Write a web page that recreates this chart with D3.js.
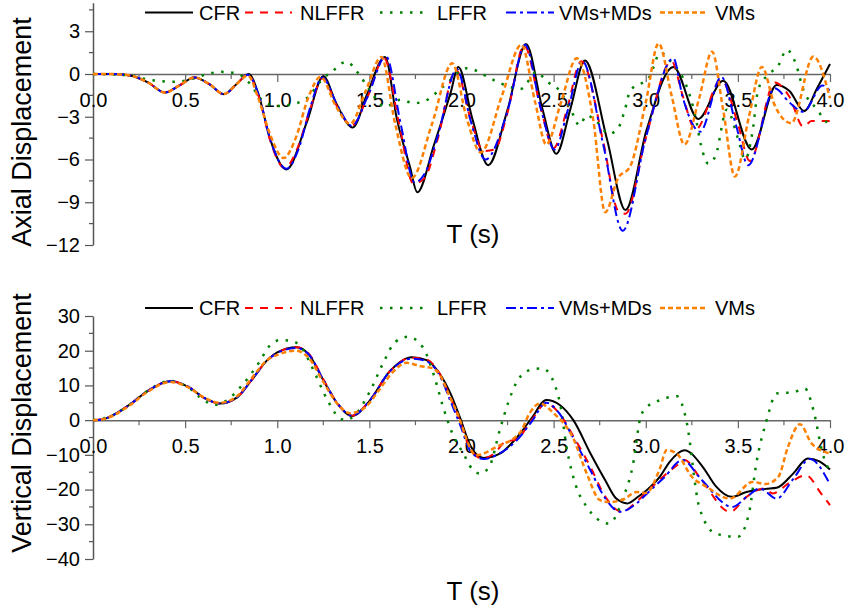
<!DOCTYPE html>
<html>
<head>
<meta charset="utf-8">
<script src="https://cdn.jsdelivr.net/npm/d3@7"></script>
<style>
  html, body { margin: 0; padding: 0; background: #fff; }
  svg { display: block; font-family: "Liberation Sans", Arial, sans-serif; }
</style>
</head>
<body>
<svg id="chart" width="846" height="614"></svg>
<script>
// ---- series names and labels ----
const seriesNames = ["CFR", "NLFFR", "LFFR", "VMs+MDs", "VMs"];
const xTickValues = [0, 0.5, 1, 1.5, 2, 2.5, 3, 3.5, 4];
const xTickLabels = ["0.0", "0.5", "1.0", "1.5", "2.0", "2.5", "3.0", "3.5", "4.0"];
const axialTicks = [3, 0, -3, -6, -9, -12];
const verticalTicks = [30, 20, 10, 0, -10, -20, -30, -40];

// ---- axial displacement, [time (s), value] ----
const axialCFR = [[0,0],[0.1,0],[0.2,-0.1],[0.3,-0.6],[0.39,-1.3],[0.47,-0.8],[0.55,-0.25],[0.63,-0.7],[0.71,-1.42],[0.78,-0.7],[0.845,0],[0.9,-1.5],[0.96,-4.5],[1.05,-6.7],[1.16,-3.4],[1.25,-0.15],[1.32,-2.06],[1.41,-3.75],[1.485,-1.5],[1.585,1.2],[1.65,-3.2],[1.72,-6.5],[1.76,-8.3],[1.85,-5.0],[1.94,-1.36],[1.983,0.5],[2.06,-3.2],[2.145,-6.4],[2.25,-2.5],[2.35,2.1],[2.44,-2.5],[2.515,-5.6],[2.59,-2.5],[2.67,0.95],[2.79,-4.6],[2.89,-9.55],[3.005,-3.9],[3.15,0.5],[3.285,-3.15],[3.42,-0.47],[3.575,-5.3],[3.71,-0.77],[3.78,-1.2],[3.86,-2.6],[3.93,-1.0],[4.0,0.7]];
const axialNLFFR = [[0,0],[0.1,0],[0.2,-0.1],[0.3,-0.6],[0.39,-1.3],[0.47,-0.8],[0.55,-0.25],[0.63,-0.7],[0.71,-1.42],[0.78,-0.7],[0.84,-0.05],[0.9,-1.6],[0.96,-4.6],[1.04,-6.6],[1.11,-5.2],[1.18,-2.4],[1.245,-0.3],[1.33,-2.4],[1.405,-3.6],[1.49,-1.6],[1.58,1.1],[1.66,-3.4],[1.74,-7.7],[1.8,-7.3],[1.87,-4.6],[1.97,0.3],[2.05,-3.2],[2.12,-5.4],[2.18,-5.3],[2.25,-2.7],[2.34,2.0],[2.43,-2.4],[2.5,-5.2],[2.57,-2.6],[2.65,0.9],[2.77,-4.8],[2.85,-9.6],[2.89,-9.8],[3.0,-4.5],[3.14,0.9],[3.2,-1.5],[3.27,-3.9],[3.41,-0.4],[3.5,-3.5],[3.565,-6.1],[3.7,-0.6],[3.78,-1.6],[3.855,-3.7],[3.9,-3.3],[4.0,-3.3]];
const axialLFFR = [[0,0],[0.2,-0.1],[0.3,-0.4],[0.45,-0.55],[0.55,-0.3],[0.62,0],[0.7,0.15],[0.78,0.05],[0.85,-0.65],[0.915,-1.8],[1.0,-2.25],[1.09,-2.1],[1.16,-1.7],[1.25,-0.3],[1.3,0.2],[1.375,0.86],[1.44,0.05],[1.5,-1.1],[1.585,-2.3],[1.67,-1.8],[1.74,-2.05],[1.8,-1.9],[1.9,-0.9],[2.03,0.4],[2.17,-0.4],[2.26,-0.9],[2.32,-1.05],[2.41,0.15],[2.46,-0.5],[2.52,-1.0],[2.59,-2.4],[2.64,-3.6],[2.68,-2.9],[2.73,-3.3],[2.8,-4.2],[2.85,-3.8],[2.887,-2.5],[2.915,-1.2],[3.02,-0.2],[3.08,1.5],[3.14,0.8],[3.22,-0.8],[3.27,-3.0],[3.3,-5.0],[3.34,-6.3],[3.38,-5.7],[3.44,-2.5],[3.5,-4.5],[3.54,-6.0],[3.58,-4.0],[3.61,-1.1],[3.66,-0.1],[3.72,0.6],[3.765,1.7],[3.82,0.5],[3.85,-0.9],[3.93,-2.5],[4.0,-3.7]];
const axialVMsMDs = [[0,0],[0.1,0],[0.2,-0.1],[0.3,-0.6],[0.39,-1.3],[0.47,-0.8],[0.55,-0.25],[0.63,-0.7],[0.71,-1.42],[0.78,-0.7],[0.84,-0.05],[0.9,-1.5],[0.96,-4.5],[1.05,-6.65],[1.12,-5.1],[1.18,-2.3],[1.245,-0.25],[1.33,-2.3],[1.405,-3.65],[1.49,-1.6],[1.59,1.25],[1.67,-3.5],[1.745,-7.6],[1.8,-7.0],[1.87,-4.4],[1.975,0.35],[2.05,-3.3],[2.13,-6.0],[2.25,-2.6],[2.345,2.05],[2.43,-2.4],[2.505,-5.3],[2.58,-2.4],[2.655,0.9],[2.77,-5.0],[2.875,-11.0],[3.0,-4.5],[3.15,1.1],[3.2,-1.6],[3.295,-4.05],[3.41,-0.2],[3.49,-3.6],[3.556,-6.4],[3.7,-1.0],[3.78,-2.0],[3.855,-2.65],[3.96,-0.8],[4.0,-1.2]];
const axialVMs = [[0,0],[0.1,0],[0.2,-0.1],[0.3,-0.6],[0.39,-1.3],[0.47,-0.8],[0.55,-0.25],[0.63,-0.7],[0.71,-1.4],[0.78,-0.7],[0.84,-0.1],[0.9,-1.8],[0.96,-4.2],[1.035,-5.9],[1.1,-4.5],[1.17,-1.6],[1.235,-0.2],[1.32,-2.3],[1.395,-3.5],[1.48,-1.2],[1.565,1.2],[1.64,-3.5],[1.73,-7.3],[1.84,-3.5],[1.95,0.75],[2.03,-3.2],[2.105,-5.5],[2.22,-1.5],[2.325,2.05],[2.4,-2.0],[2.46,-4.95],[2.54,-2.0],[2.625,1.1],[2.715,-3.2],[2.78,-9.7],[2.85,-7.3],[2.915,-6.5],[3.0,-2.0],[3.07,2.15],[3.14,-1.5],[3.21,-4.95],[3.29,-1.7],[3.36,1.57],[3.42,-2.5],[3.484,-7.2],[3.56,-3.0],[3.63,0.5],[3.7,-2.2],[3.79,-3.45],[3.91,1.22],[4.0,-1.7]];

// ---- vertical displacement, [time (s), value] ----
const verticalCFR = [[0,0],[0.05,0.2],[0.1,1.2],[0.2,4.5],[0.3,8.5],[0.42,11.2],[0.52,9.5],[0.6,6.5],[0.69,4.8],[0.78,6.5],[0.86,11.5],[0.95,17.5],[1.0,19.5],[1.105,21.0],[1.17,19.0],[1.25,11.5],[1.33,4.5],[1.405,1.2],[1.5,5.5],[1.61,14.0],[1.73,18.1],[1.81,17.3],[1.88,13.5],[1.94,7.7],[1.99,1.0],[2.05,-7.5],[2.12,-10.9],[2.21,-9.6],[2.3,-5.0],[2.38,0.5],[2.46,5.8],[2.535,4.3],[2.607,0],[2.7,-9.6],[2.78,-17.3],[2.84,-22.6],[2.9,-24.0],[2.96,-22.0],[3.005,-20.2],[3.077,-16.3],[3.13,-12.0],[3.21,-8.65],[3.31,-13.5],[3.38,-19.0],[3.466,-22.1],[3.547,-20.7],[3.65,-19.8],[3.71,-19.5],[3.8,-15.4],[3.88,-11.05],[3.94,-11.8],[4.0,-14.2]];
const verticalNLFFR = [[0,0],[0.05,0.2],[0.1,1.2],[0.2,4.5],[0.3,8.5],[0.42,11.2],[0.52,9.5],[0.6,6.5],[0.69,4.8],[0.78,6.5],[0.86,11.5],[0.95,17.5],[1.0,19.4],[1.105,21.0],[1.17,19.2],[1.25,11.8],[1.33,4.6],[1.405,1.3],[1.5,5.5],[1.61,14.0],[1.73,18.0],[1.81,17.5],[1.88,13.5],[1.94,6.5],[1.99,0],[2.05,-8.5],[2.11,-11.0],[2.18,-9.5],[2.236,-6.3],[2.3,-5.5],[2.38,0],[2.46,4.8],[2.53,2.0],[2.6,-4.0],[2.7,-13.5],[2.78,-22.0],[2.87,-26.4],[2.95,-23.5],[3.0,-21.0],[3.1,-16.0],[3.17,-13.0],[3.21,-11.5],[3.3,-17.0],[3.457,-26.4],[3.55,-22.0],[3.64,-19.7],[3.69,-21.1],[3.78,-18.0],[3.87,-15.9],[3.95,-21.0],[4.0,-24.5]];
const verticalLFFR = [[0,0],[0.1,1.2],[0.2,4.5],[0.3,8.6],[0.42,11.3],[0.52,9.3],[0.6,5.8],[0.66,4.4],[0.72,5.5],[0.8,9.5],[0.9,16.5],[0.96,21.5],[1.02,23.1],[1.08,22.8],[1.13,21.0],[1.2,14.0],[1.27,6.0],[1.33,1.0],[1.37,0],[1.43,2.0],[1.5,8.0],[1.58,17.0],[1.64,22.5],[1.71,24.0],[1.79,21.0],[1.85,13.0],[1.9,3.8],[1.96,-5.0],[2.01,-9.6],[2.055,-13.9],[2.1,-15.4],[2.15,-13.5],[2.21,-2.4],[2.255,5.3],[2.3,11.0],[2.37,14.4],[2.44,14.9],[2.51,9.6],[2.535,4.8],[2.57,-7.7],[2.62,-18.7],[2.68,-25.0],[2.8,-29.8],[2.88,-22.0],[2.93,-13.0],[2.97,0.5],[3.0,3.5],[3.08,5.8],[3.17,6.9],[3.22,0],[3.29,-25.0],[3.38,-32.7],[3.5,-33.6],[3.56,-26.9],[3.6,-12.5],[3.656,0],[3.71,7.7],[3.8,8.0],[3.864,9.1],[3.91,2.9],[3.96,-9.6],[4.0,-14.9]];
const verticalVMsMDs = [[0,0],[0.05,0.2],[0.1,1.2],[0.2,4.5],[0.3,8.5],[0.42,11.2],[0.52,9.5],[0.6,6.5],[0.69,4.8],[0.78,6.5],[0.86,11.5],[0.95,17.5],[1.0,19.3],[1.105,20.8],[1.17,19.0],[1.25,11.6],[1.33,4.6],[1.405,1.3],[1.5,5.5],[1.61,14.0],[1.73,17.7],[1.81,17.0],[1.88,13.0],[1.94,5.5],[1.99,-1.0],[2.05,-9.0],[2.12,-11.2],[2.2,-9.8],[2.3,-5.8],[2.38,-0.5],[2.46,5.0],[2.53,2.0],[2.6,-4.5],[2.7,-14.5],[2.78,-22.5],[2.86,-26.4],[2.95,-24.0],[3.0,-21.5],[3.1,-16.5],[3.2,-11.5],[3.3,-17.0],[3.47,-25.0],[3.55,-22.0],[3.62,-19.7],[3.71,-22.6],[3.8,-17.0],[3.89,-11.2],[4.0,-18.5]];
const verticalVMs = [[0,0],[0.05,0.2],[0.1,1.1],[0.2,4.3],[0.3,8.3],[0.42,11.0],[0.52,9.4],[0.6,6.6],[0.69,5.0],[0.78,6.8],[0.86,12.0],[0.95,17.5],[1.0,18.8],[1.1,20.0],[1.17,18.0],[1.25,11.0],[1.33,4.5],[1.395,2.0],[1.48,3.8],[1.55,8.5],[1.63,14.0],[1.7,16.5],[1.78,15.5],[1.84,15.0],[1.883,13.0],[1.93,7.5],[1.97,2.9],[2.08,-10.1],[2.19,-7.7],[2.32,-3.4],[2.37,2.0],[2.426,4.8],[2.5,2.0],[2.607,-5.3],[2.68,-15.4],[2.75,-23.0],[2.8,-23.6],[2.88,-22.8],[2.95,-20.7],[3.0,-21.0],[3.077,-13.9],[3.113,-8.65],[3.167,-9.6],[3.25,-16.3],[3.33,-19.2],[3.457,-22.6],[3.58,-17.8],[3.65,-18.4],[3.72,-16.3],[3.77,-8.0],[3.837,-1.15],[3.9,-6.7],[4.0,-9.6]];

// ---- line styles per series ----
const seriesStyles = [
  { color: "#000000", dash: null,        width: 2.0 },
  { color: "#ff0000", dash: "8,7",       width: 2.0 },
  { color: "#008000", dash: "2.5,7.5",   width: 2.5 },
  { color: "#0000ff", dash: "10,4,3,4",  width: 2.0 },
  { color: "#ff8000", dash: "5,3",       width: 2.5 }
];

const panels = [
  {
    title: "Axial Displacement",
    domain: [-12, 5], range: [245, 2.75],
    ticks: axialTicks, minorStep: 1.5,
    series: [axialCFR, axialNLFFR, axialLFFR, axialVMsMDs, axialVMs],
    legendY: 12.5, xTitleY: 243, yTitleCenter: 132
  },
  {
    title: "Vertical Displacement",
    domain: [-40, 30], range: [559, 316],
    ticks: verticalTicks, minorStep: 5,
    series: [verticalCFR, verticalNLFFR, verticalLFFR, verticalVMsMDs, verticalVMs],
    legendY: 308, xTitleY: 600, yTitleCenter: 423
  }
];

const FONT = '"Liberation Sans", Arial, sans-serif';
const svg = d3.select("#chart");
const x = d3.scaleLinear().domain([0, 4]).range([93, 830]);
const xMinor = d3.range(0, 4.0001, 0.25).filter(v => Math.abs(v * 2 - Math.round(v * 2)) > 1e-6);

// legend layout: [line start, line end, text x]
const legendSlots = [[145, 193, 199], [245, 292, 300], [380, 428, 437], [506, 554, 559], [660, 705, 715]];

panels.forEach(p => {
  const y = d3.scaleLinear().domain(p.domain).range(p.range);
  const g = svg.append("g");

  // y axis (major)
  const yAxis = g.append("g").attr("transform", `translate(${x(0)},0)`)
    .call(d3.axisLeft(y).tickValues(p.ticks).tickSize(8).tickSizeOuter(0).tickPadding(5).tickFormat(d3.format("d")));
  yAxis.select(".domain").attr("stroke", "#555").attr("stroke-width", 1.5);
  yAxis.selectAll(".tick line").attr("stroke", "#555").attr("stroke-width", 1.2);
  yAxis.selectAll("text").attr("font-size", 20).attr("font-family", FONT).attr("fill", "#000");

  // y axis (minor)
  const yMinorVals = d3.range(p.domain[0], p.domain[1] + 1e-6, p.minorStep)
    .filter(v => !p.ticks.some(t => Math.abs(t - v) < 1e-6));
  g.append("g").selectAll("line").data(yMinorVals).join("line")
    .attr("x1", x(0) - 4).attr("x2", x(0))
    .attr("y1", d => y(d)).attr("y2", d => y(d))
    .attr("stroke", "#555").attr("stroke-width", 1.2);

  // x axis at zero
  const xAxis = g.append("g").attr("transform", `translate(0,${y(0)})`)
    .call(d3.axisBottom(x).tickValues(xTickValues).tickSize(8).tickSizeOuter(0)
      .tickFormat((d, i) => xTickLabels[i]));
  xAxis.select(".domain").attr("stroke", "#666").attr("stroke-width", 1.5);
  xAxis.selectAll(".tick line").attr("stroke", "#666").attr("stroke-width", 1.2);
  xAxis.selectAll("text").attr("font-size", 20).attr("font-family", FONT).attr("fill", "#000")
    .attr("y", 19).attr("dy", "0.71em");
  g.append("g").attr("transform", `translate(0,${y(0)})`)
    .selectAll("line").data(xMinor).join("line")
    .attr("x1", d => x(d)).attr("x2", d => x(d))
    .attr("y1", 0).attr("y2", 5)
    .attr("stroke", "#666").attr("stroke-width", 1.2);

  // curves
  const line = d3.line().x(d => x(d[0])).y(d => y(d[1])).curve(d3.curveMonotoneX);
  p.series.forEach((data, i) => {
    const s = seriesStyles[i];
    g.append("path").datum(data)
      .attr("d", line)
      .attr("fill", "none")
      .attr("stroke", s.color)
      .attr("stroke-width", s.width)
      .attr("stroke-dasharray", s.dash)
      .attr("stroke-linejoin", "round");
  });

  // legend
  const lg = g.append("g");
  seriesNames.forEach((name, i) => {
    const s = seriesStyles[i];
    const [x1, x2, tx] = legendSlots[i];
    lg.append("line")
      .attr("x1", x1).attr("x2", x2).attr("y1", p.legendY).attr("y2", p.legendY)
      .attr("stroke", s.color).attr("stroke-width", s.width)
      .attr("stroke-dasharray", s.dash);
    lg.append("text")
      .attr("x", tx).attr("y", p.legendY + 7)
      .attr("font-size", 20).attr("font-family", FONT).attr("fill", "#000")
      .text(name);
  });

  // axis titles
  g.append("text")
    .attr("x", 473).attr("y", p.xTitleY)
    .attr("text-anchor", "middle")
    .attr("font-size", 26).attr("font-family", FONT).attr("fill", "#000")
    .text("T (s)");
  g.append("text")
    .attr("transform", `translate(31,${p.yTitleCenter}) rotate(-90)`)
    .attr("text-anchor", "middle")
    .attr("font-size", 27).attr("font-family", FONT).attr("fill", "#000")
    .text(p.title);
});
</script>
</body>
</html>
